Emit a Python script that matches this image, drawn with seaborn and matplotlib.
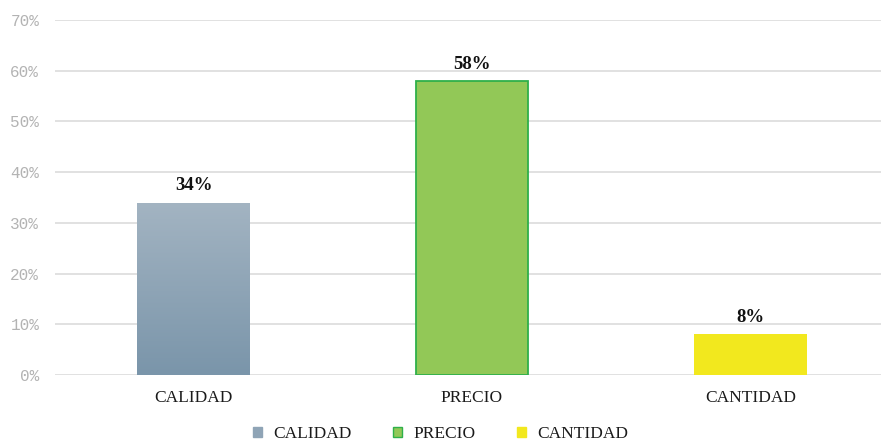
import numpy as np
import pandas as pd
import matplotlib
matplotlib.use('Agg')
import matplotlib.pyplot as plt
import seaborn as sns
from matplotlib.colors import LinearSegmentedColormap
from matplotlib.patches import Patch

categorias = ["CALIDAD", "PRECIO", "CANTIDAD"]
valores = [34, 58, 8]
colores = ["#8fa4b6", "#92c857", "#f2e81e"]
bordes = ["none", "#2fb04a", "none"]

df = pd.DataFrame({"categoria": categorias, "valor": valores})

sns.set_theme(style="white")
fig = plt.figure(figsize=(8.81, 4.41), dpi=100)
ax = fig.add_axes([54.5 / 881, 1 - 375 / 441, 835 / 881, 355 / 441])

sns.barplot(data=df, x="categoria", y="valor", hue="categoria",
            palette=colores, saturation=1, width=0.405, legend=False,
            ax=ax, zorder=3)

ax.set_ylim(0, 70)
ax.set_xlim(-0.5, 2.5)
ax.set_yticks(range(0, 71, 10))
ax.set_yticklabels([f"{t}%" for t in range(0, 71, 10)],
                   family="Liberation Mono", fontsize=11.5, color="#b3b3b3")
ax.tick_params(axis="y", length=0, pad=11)
ax.tick_params(axis="x", length=0, pad=11)
for lbl in ax.get_xticklabels():
    lbl.set_family("Liberation Serif")
    lbl.set_fontsize(12.5)
    lbl.set_color("#1a1a1a")
ax.grid(axis="y", color="#dcdcdc", lw=1.2, zorder=0)
ax.set_axisbelow(True)
sns.despine(ax=ax, left=True, bottom=True, top=True, right=True)
ax.set_xlabel("")
ax.set_ylabel("")

# bordes y degradado de la primera barra
bars = ax.patches
for b, ec in zip(bars, bordes):
    if ec != "none":
        b.set_edgecolor(ec)
        b.set_linewidth(1.3)
    else:
        b.set_edgecolor("none")

b0 = bars[0]
x0, w, h = b0.get_x(), b0.get_width(), b0.get_height()
cmap = LinearSegmentedColormap.from_list("grad", ["#7a95aa", "#a3b4c2"])
grad = np.linspace(0, 1, 256).reshape(-1, 1)
im = ax.imshow(grad, cmap=cmap, origin="lower", aspect="auto",
               extent=[x0, x0 + w, 0, h], zorder=4)
im.set_clip_path(b0)
ax.set_xlim(-0.5, 2.5)
ax.set_ylim(0, 70)

for b, v in zip(bars, valores):
    ax.text(b.get_x() + b.get_width() / 2, v + 1.6, f"{v}%",
            ha="center", va="bottom", family="Liberation Serif",
            fontweight="bold", fontsize=13.5, color="#111111", zorder=5)

handles = [Patch(facecolor=c, edgecolor=(e if e != "none" else c), label=n)
           for c, e, n in zip(["#8fa4b6", "#92c857", "#f2e81e"], bordes, categorias)]
leg = fig.legend(handles=handles, loc="center", bbox_to_anchor=(0.5, 1 - 434 / 441),
                 ncol=3, frameon=False, handlelength=0.5, handleheight=0.5,
                 columnspacing=2.4, handletextpad=0.65,
                 prop={"family": "Liberation Serif", "size": 12.5})
for t in leg.get_texts():
    t.set_color("#1a1a1a")

fig.savefig("out.png", dpi=100)
